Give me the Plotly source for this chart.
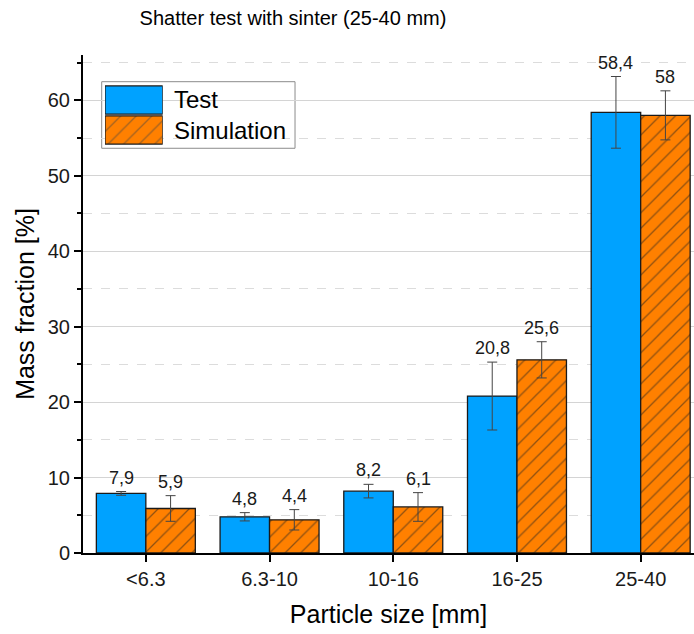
import plotly.graph_objects as go

categories = ["<6.3", "6.3-10", "10-16", "16-25", "25-40"]
test_values = [7.9, 4.8, 8.2, 20.8, 58.4]
test_errors = [0.25, 0.55, 0.9, 4.5, 4.75]
sim_values = [5.9, 4.4, 6.1, 25.6, 58.0]
sim_errors = [1.7, 1.35, 1.9, 2.4, 3.25]
series_names = ["Test", "Simulation"]

BLUE = "#00A2FF"
ORANGE = "#FF8000"
FONT = "Liberation Sans, Arial, sans-serif"

xpos = list(range(len(categories)))

fig = go.Figure()
fig.add_trace(go.Bar(
    x=xpos, y=test_values, name=series_names[0], offsetgroup="a",
    marker=dict(color=BLUE, line=dict(color="#1a1a1a", width=1.3)),
    error_y=dict(type="data", array=test_errors, color="#444444", thickness=1, width=5),
    showlegend=False,
))
fig.add_trace(go.Bar(
    x=xpos, y=sim_values, name=series_names[1], offsetgroup="b",
    marker=dict(color=ORANGE, line=dict(color="#1a1a1a", width=1.3),
                pattern=dict(shape="/", fgcolor="#222222", bgcolor=ORANGE, size=11, solidity=0.12)),
    error_y=dict(type="data", array=sim_errors, color="#444444", thickness=1, width=5),
    showlegend=False,
))

def fmt(v):
    return f"{v:g}".replace(".", ",")

for i, (v, e) in enumerate(zip(test_values, test_errors)):
    fig.add_annotation(x=i - 0.2, y=v + e, text=fmt(v), showarrow=False, yshift=14,
                       font=dict(size=18, color="#1a1a1a", family=FONT))
for i, (v, e) in enumerate(zip(sim_values, sim_errors)):
    fig.add_annotation(x=i + 0.2, y=v + e, text=fmt(v), showarrow=False, yshift=14,
                       font=dict(size=18, color="#1a1a1a", family=FONT))

# Legend drawn manually to get large swatches (on helper axes)
fig.add_trace(go.Bar(
    x=[1, 1], y=[1.5, 0.5], orientation="h", xaxis="x2", yaxis="y2", width=0.94,
    marker=dict(color=[BLUE, ORANGE], line=dict(color="#1a1a1a", width=1.3),
                pattern=dict(shape=["", "/"], fgcolor="#222222", size=11, solidity=0.12)),
    showlegend=False, hoverinfo="skip",
))
fig.add_shape(type="rect", xref="paper", yref="paper", x0=0.0306, x1=0.347, y0=0.8127, y1=0.9464,
              line=dict(color="#8c8c8c", width=1), fillcolor="white", layer="between")
fig.add_annotation(xref="paper", yref="paper", x=0.145, y=0.9116, xanchor="left", yanchor="middle",
                   text=series_names[0], showarrow=False, font=dict(size=24, color="black", family=FONT))
fig.add_annotation(xref="paper", yref="paper", x=0.145, y=0.8474, xanchor="left", yanchor="middle",
                   text=series_names[1], showarrow=False, font=dict(size=24, color="black", family=FONT))

fig.update_layout(
    width=694, height=634,
    margin=dict(l=83, r=0, t=55, b=81, autoexpand=False),
    paper_bgcolor="white", plot_bgcolor="white",
    barmode="group", bargap=0.2, bargroupgap=0,
    font=dict(family=FONT, color="black"),
    title=dict(text="Shatter test with sinter (25-40 mm)", x=293 / 694, xanchor="center",
               xref="container", y=1 - 18 / 634, yanchor="middle", yref="container",
               font=dict(size=20, color="black", family=FONT)),
    xaxis=dict(
        range=[-0.508, 4.431], tickvals=xpos, ticktext=categories, automargin=False,
        showline=True, linecolor="black", linewidth=2,
        ticks="outside", ticklen=7, tickwidth=2, tickcolor="black",
        showgrid=False, zeroline=False,
        tickfont=dict(size=20, color="#1a1a1a", family=FONT),
        title=dict(text="Particle size [mm]", font=dict(size=25, color="black", family=FONT), standoff=16),
    ),
    yaxis=dict(
        range=[0, 66], dtick=10, tick0=0, automargin=False,
        showline=True, linecolor="black", linewidth=2,
        ticks="outside", ticklen=7, tickwidth=2, tickcolor="black",
        showgrid=True, gridcolor="#d4d4d4", gridwidth=1, zeroline=False,
        minor=dict(dtick=5, ticks="outside", ticklen=4, tickwidth=2, tickcolor="black",
                   showgrid=True, gridcolor="#dcdcdc", griddash="dash", gridwidth=1),
        tickfont=dict(size=20, color="#1a1a1a", family=FONT),
        title=dict(text="Mass fraction [%]", font=dict(size=25, color="black", family=FONT), standoff=6),
    ),
    xaxis2=dict(domain=[0.036, 0.1304], range=[0, 1], anchor="y2", visible=False, fixedrange=True),
    yaxis2=dict(domain=[0.8193, 0.9398], range=[0, 2], anchor="x2", visible=False, fixedrange=True),
)

html = fig.to_html(include_plotlyjs=True, full_html=True, config={"displayModeBar": False})
html = html.replace("<body>", '<body style="margin:0;padding:0;overflow:hidden">', 1)
with open("out.html", "w", encoding="utf-8") as f:
    f.write(html)
